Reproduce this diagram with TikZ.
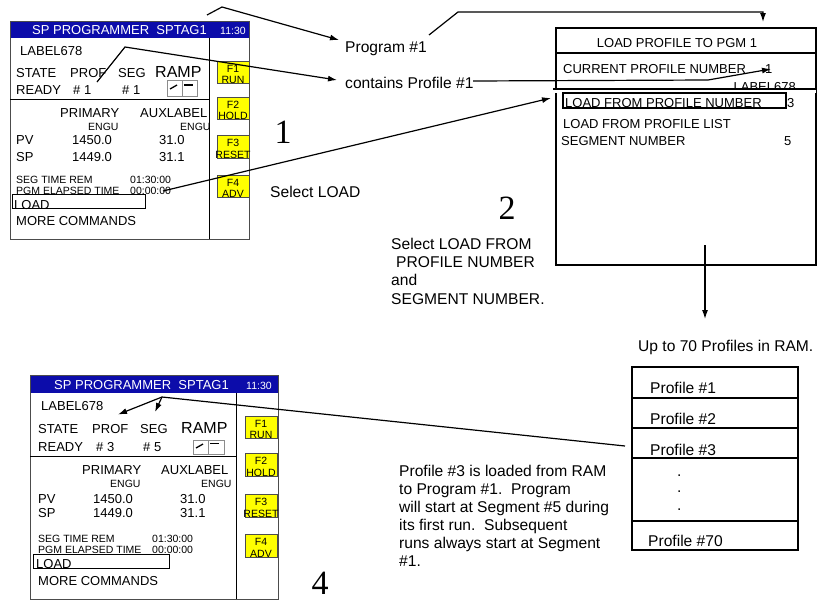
\documentclass[tikz,border=0pt]{standalone}
\usepackage{fontspec}
\setmainfont{Liberation Sans}
\newfontfamily\numfont{Liberation Serif}
\usetikzlibrary{arrows.meta}
\definecolor{barblue}{RGB}{12,12,170}
\definecolor{keyyellow}{RGB}{255,255,0}
\begin{document}
\begin{tikzpicture}[x=1pt,y=-1pt,
 lbl/.style={inner sep=0pt, anchor=base west},
 scr/.style={lbl, font=\fontsize{13}{15}\selectfont},
 sml/.style={lbl, font=\fontsize{10.5}{12}\selectfont},
 txt/.style={lbl, font=\fontsize{15.6}{18}\selectfont},
 rampt/.style={lbl, font=\fontsize{16}{18}\selectfont},
 keytxt/.style={inner sep=0pt, anchor=base, font=\fontsize{10.5}{12}\selectfont},
 keybox/.style={draw=black!70, fill=keyyellow, line width=0.8pt},
 big/.style={inner sep=0pt, font=\numfont\fontsize{34}{36}\selectfont},
 arr/.style={-{Latex[length=9pt,width=6pt]}, line width=1.2pt},
 ln/.style={line width=1.2pt},
 scrframe/.style={draw=black!70, line width=1pt},
 iconbox/.style={draw=black!45, line width=0.8pt},
]
\useasboundingbox (0,0) rectangle (817,600);

% ================= top screen =================
\fill[barblue] (10,21) rectangle (249,38);
\draw[scrframe] (10,21) rectangle (249,239);
\draw[line width=0.9pt] (209,38) -- (209,239);
\draw[line width=0.9pt] (10,99) -- (209,99);
\node[scr, text=white] (ta) at (32,34) {SP PROGRAMMER\ \ SPTAG1};
\node[sml, text=white] (tb) at (220,34) {11:30};
\node[scr] (tc) at (20,55) {LABEL678};
\node[scr] (td) at (16,77) {STATE};
\node[scr] (te) at (70,77) {PROF};
\node[scr] (tf) at (118,77) {SEG};
\node[rampt] (tg) at (155,77) {RAMP};
\node[scr] (th) at (16,94) {READY};
\node[scr] (ti) at (73,94) {\#\ 1};
\node[scr] (tj) at (122,94) {\#\ 1};
\draw[iconbox] (167,80) rectangle (182,96);
\draw[iconbox] (182,80) rectangle (197,96);
\draw[line width=1.3pt] (170,89) -- (177,85);
\draw[line width=1.3pt] (184,85) -- (193,85);
\node[scr] (tk) at (60,117) {PRIMARY};
\node[scr] (tl) at (140,117) {AUXLABEL};
\node[sml] (tm) at (88,130) {ENGU};
\node[sml] (tn) at (180,130) {ENGU};
\node[scr] (to) at (16,144) {PV};
\node[scr] (tp) at (72,144) {1450.0};
\node[scr] (tq) at (159,144) {31.0};
\node[scr] (tr) at (16,161) {SP};
\node[scr] (ts) at (72,161) {1449.0};
\node[scr] (tt) at (159,161) {31.1};
\node[sml] (tu) at (16,183) {SEG TIME REM};
\node[sml] (tv) at (130,183) {01:30:00};
\node[sml] (tw) at (16,194) {PGM ELAPSED TIME};
\node[sml] (tx) at (130,194) {00:00:00};
\node[scr] (ty) at (14,209) {LOAD};
\draw[line width=0.9pt] (12,194) rectangle (145,208);
\node[scr] (tz) at (16,225) {MORE COMMANDS};
\foreach \i/\ya/\yb/\k in {1/61/83/RUN,2/97/119/HOLD,3/135/158/RESET,4/175/197/ADV}{
  \draw[keybox] (217,\ya) rectangle (249,\yb);
  \node[keytxt] (tk\i a) at (233,\ya+11) {F\i};
  \node[keytxt] (tk\i b) at (233,\yb) {\k};
}

% ================= bottom screen =================
\fill[barblue] (30,375) rectangle (278,393);
\draw[scrframe] (30,375) rectangle (278,599);
\draw[line width=0.9pt] (236,393) -- (236,599);
\draw[line width=0.9pt] (30,456) -- (236,456);
\node[scr, text=white] (ba) at (54,389) {SP PROGRAMMER\ \ SPTAG1};
\node[sml, text=white] (bb) at (246,389) {11:30};
\node[scr] (bc) at (41,410) {LABEL678};
\node[scr] (bd) at (38,433) {STATE};
\node[scr] (be) at (92,433) {PROF};
\node[scr] (bf) at (140,433) {SEG};
\node[rampt] (bg) at (181,433) {RAMP};
\node[scr] (bh) at (38,451) {READY};
\node[scr] (bi) at (96,451) {\#\ 3};
\node[scr] (bj) at (143,451) {\#\ 5};
\draw[iconbox] (193,440) rectangle (208,454);
\draw[iconbox] (208,440) rectangle (224,454);
\draw[line width=1.3pt] (196,448) -- (203,444);
\draw[line width=1.3pt] (210,443.5) -- (219,443.5);
\node[scr] (bk) at (82,474) {PRIMARY};
\node[scr] (bl) at (161,474) {AUXLABEL};
\node[sml] (bm) at (110,487) {ENGU};
\node[sml] (bn) at (201,487) {ENGU};
\node[scr] (bo) at (38,503) {PV};
\node[scr] (bp) at (93,503) {1450.0};
\node[scr] (bq) at (180,503) {31.0};
\node[scr] (br) at (38,517) {SP};
\node[scr] (bs) at (93,517) {1449.0};
\node[scr] (bt) at (180,517) {31.1};
\node[sml] (bu) at (38,542) {SEG TIME REM};
\node[sml] (bv) at (152,542) {01:30:00};
\node[sml] (bw) at (38,553) {PGM ELAPSED TIME};
\node[sml] (bx) at (152,553) {00:00:00};
\node[scr] (by) at (36,568) {LOAD};
\draw[line width=0.9pt] (33,554) rectangle (169,568);
\node[scr] (bz) at (38,585) {MORE COMMANDS};
\foreach \i/\ya/\yb/\k in {1/416/438/RUN,2/453/476/HOLD,3/494/517/RESET,4/534/557/ADV}{
  \draw[keybox] (245,\ya) rectangle (277,\yb);
  \node[keytxt] (bk\i a) at (261,\ya+11) {F\i};
  \node[keytxt] (bk\i b) at (261,\yb) {\k};
}

% ================= top-right box =================
\draw[ln] (556,28) rectangle (816,265);
\draw[ln] (556,53) -- (816,53);
\node[inner sep=0pt, anchor=base, font=\fontsize{13}{15}\selectfont] (ra) at (677,47) {LOAD PROFILE TO PGM 1};
\node[scr] (rb) at (563,73) {CURRENT PROFILE NUMBER};
\node[scr] (rc) at (765,73) {1};
\node[inner sep=0pt, anchor=base east, font=\fontsize{13}{15}\selectfont] (rd) at (796,91) {LABEL678};
\fill[white] (553,89.6) rectangle (816,92.5);
\draw[ln] (553,89) -- (816,89);
\node[scr] (re) at (565,107) {LOAD FROM PROFILE NUMBER};
\draw[line width=1.1pt] (563,93) rectangle (786,108);
\node[scr] (rf) at (787,107) {3};
\node[scr] (rg) at (563,128) {LOAD FROM PROFILE LIST};
\node[scr] (rh) at (561,145) {SEGMENT NUMBER};
\node[scr] (ri) at (784,145) {5};

% ================= free texts =================
\node[txt] (pg) at (345,52) {Program \#1};
\node[txt] (cp) at (345,88) {contains Profile \#1};
\node[txt] (sl) at (270,197) {Select LOAD};
\node[txt] (s1) at (391,249) {Select LOAD FROM};
\node[txt] (s2) at (396,267) {PROFILE NUMBER};
\node[txt] (s3) at (391,285.5) {and};
\node[txt] (s4) at (391,304) {SEGMENT NUMBER.};
\node[big] (n1) at (283,132) {1};
\node[big] (n2) at (507,208.5) {2};
\node[big] (n4) at (320,583.5) {4};
\node[txt] (up) at (638,351) {Up to 70 Profiles in RAM.};
\node[txt] (q1) at (399,476) {Profile \#3 is loaded from RAM};
\node[txt] (q2) at (399,494) {to Program \#1.\ \ Program};
\node[txt] (q3) at (399,512) {will start at Segment \#5 during};
\node[txt] (q4) at (399,530) {its first run.\ \ Subsequent};
\node[txt] (q5) at (399,548) {runs always start at Segment};
\node[txt] (q6) at (399,566) {\#1.};

% ================= profile list =================
\draw[ln] (632,367) rectangle (798,550);
\foreach \yy in {398,428,458,521}{ \draw[ln] (632,\yy) -- (798,\yy); }
\node[txt] (l1) at (650,393) {Profile \#1};
\node[txt] (l2) at (650,424) {Profile \#2};
\node[txt] (l3) at (650,455) {Profile \#3};
\node[txt] (d1) at (677,476) {.};
\node[txt] (d2) at (677,492) {.};
\node[txt] (d3) at (677,510) {.};
\node[txt] (l70) at (648,546) {Profile \#70};

% ================= connectors =================
\coordinate (a1s) at (207,15); \coordinate (a1m) at (222,7); \coordinate (a1e) at (339,40);
\draw[arr] (a1s) -- (a1m) -- (a1e);
\coordinate (a2s) at (97,82); \coordinate (a2m) at (125,47); \coordinate (a2e) at (337,80);
\draw[arr] (a2s) -- (a2m) -- (a2e);
\coordinate (a3s) at (163,191); \coordinate (a3e) at (551,98);
\draw[arr] (a3s) -- (a3e);
\coordinate (a4s) at (429,35); \coordinate (a4m) at (458,12); \coordinate (a4n) at (763,12); \coordinate (a4e) at (763,22);
\draw[arr] (a4s) -- (a4m) -- (a4n) -- (a4e);
\coordinate (a5s) at (473,81); \coordinate (a5m) at (708,80); \coordinate (a5e) at (771,69);
\draw[arr] (a5s) -- (a5m) -- (a5e);
\coordinate (a6s) at (705,245); \coordinate (a6e) at (705,319);
\draw[arr] (a6s) -- (a6e);
\coordinate (a7s) at (162,397); \coordinate (a7p) at (118,414.5); \coordinate (a7g) at (155,412); \coordinate (a7e) at (625,446);
\draw[arr] (a7s) -- (a7p);
\draw[arr] (a7s) -- (a7g);
\draw[ln] (a7s) -- (a7e);
\end{tikzpicture}
\end{document}
